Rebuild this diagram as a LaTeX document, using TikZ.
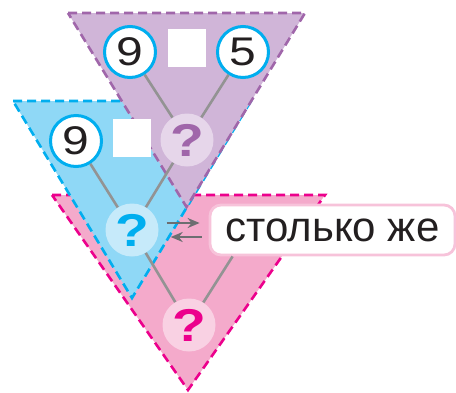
\documentclass[tikz,border=0pt]{standalone}
\usepackage{fontspec}
\setmainfont{Liberation Sans}
\newfontfamily\numfont[FakeStretch=1.2]{Liberation Sans}
\newfontfamily\qfont[FakeStretch=1.2]{Liberation Sans Bold}
\usetikzlibrary{arrows.meta}
\definecolor{pfill}{HTML}{D0B5D8}
\definecolor{pline}{HTML}{A066AA}
\definecolor{pq}{HTML}{E6D6EA}
\definecolor{bfill}{HTML}{8FD8F6}
\definecolor{bline}{HTML}{00AEEF}
\definecolor{bqc}{HTML}{C6EAFA}
\definecolor{kfill}{HTML}{F4AACB}
\definecolor{kline}{HTML}{EC008C}
\definecolor{kqc}{HTML}{F9D1E3}
\definecolor{boxline}{HTML}{F7C3DA}
\definecolor{linegray}{HTML}{939393}
\definecolor{arrgray}{HTML}{6D6E71}
\definecolor{txt}{HTML}{231F20}
\begin{document}
\begin{tikzpicture}[x=1pt,y=-1pt,
  tri/.style={line width=2.6pt,dash pattern=on 9pt off 5pt},
  numc/.style={circle,draw=bline,line width=3pt,fill=white,minimum size=51pt,inner sep=0pt,
    text=txt,font=\numfont\fontsize{40}{40}\selectfont},
  sq/.style={rectangle,fill=white,minimum size=38pt,inner sep=0pt},
  qc/.style={circle,minimum size=53pt,inner sep=0pt,font=\qfont\fontsize{46}{46}\selectfont},
  conn/.style={draw=linegray,line width=2.6pt},
  arr/.style={draw=arrgray,line width=2.6pt,-{Stealth[length=12pt,width=10pt]}}]
\useasboundingbox (0,0) rectangle (456,392);
% triangles
\filldraw[tri,fill=kfill,draw=kline] (52,195) -- (325,195) -- (188,390) -- cycle;
\filldraw[tri,fill=bfill,draw=bline] (13,101) -- (251,101) -- (132,298) -- cycle;
\filldraw[tri,fill=pfill,draw=pline] (68,13) -- (305,13) -- (186.5,207) -- cycle;
% nodes
\node[numc] (p9) at (130,52) {9};
\node[numc] (p5) at (243,52) {5};
\node[sq] (psq) at (187,48) {};
\node[qc,fill=pq,text=pline] (pqn) at (187,140) {?};
\node[numc] (b9) at (76,141) {9};
\node[sq] (bsq) at (132,138) {};
\node[qc,fill=bqc,text=bline] (bq) at (132,230) {?};
\node[qc,fill=kqc,text=kline] (kq) at (189,325) {?};
\node[rectangle,rounded corners=11pt,draw=boxline,line width=2.8pt,fill=white,
  minimum width=245pt,minimum height=50pt,inner sep=0pt,text=txt,
  font=\fontsize{42}{42}\selectfont] (box) at (332.5,230) {столько же};
% connectors
\draw[conn] (p9) -- (pqn);
\draw[conn] (p5) -- (pqn);
\draw[conn] (pqn) -- (bq);
\draw[conn] (b9) -- (bq);
\draw[conn] (bq) -- (kq);
\draw[conn] ([xshift=24pt]box.south west) -- (kq);
% arrows
\draw[arr] ([xshift=8pt,yshift=7pt]bq.east) -- ([xshift=-9pt,yshift=7pt]box.west);
\draw[arr] ([xshift=-7pt,yshift=-7pt]box.west) -- ([xshift=12pt,yshift=-7pt]bq.east);
\end{tikzpicture}
\end{document}
